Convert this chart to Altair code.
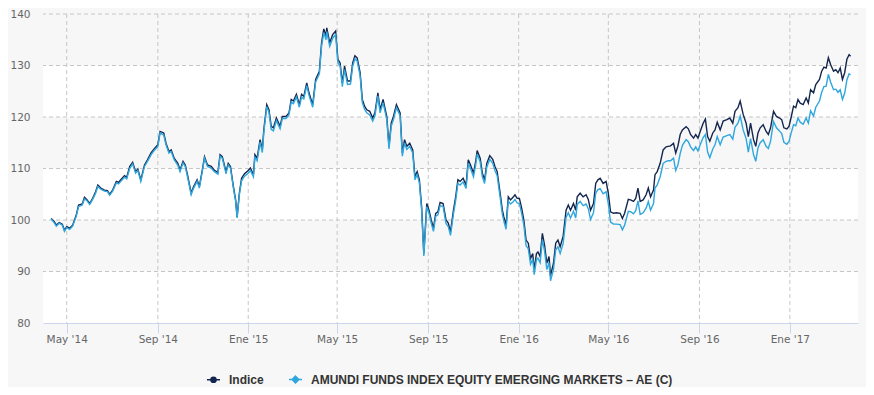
import altair as alt
import pandas as pd

# ---------------- data ----------------
# day offsets from 2014-05-01
day_offset = [
    -21, -17, -14, -10, -6, -3, 0, 4, 8, 13, 16, 21, 24, 27, 31, 35, 39, 42, 46, 51,
    55, 58, 62, 67, 70, 73, 78, 81, 85, 89, 93, 96, 100, 105, 109, 114, 118, 123, 126, 131,
    134, 138, 141, 145, 150, 153, 157, 160, 163, 168, 171, 176, 179, 183, 186, 190, 195, 199, 204,
    207, 210, 215, 218, 221, 225, 228, 230, 233, 236, 240, 245, 248, 252, 254, 257, 261, 264, 266, 270,
    273, 276, 279, 283, 288, 291, 296, 300, 303, 306, 310, 314, 317, 320, 324, 327, 332, 336, 341, 344,
    347, 350, 351, 355, 359, 363, 366, 369, 372, 375, 379, 383, 386, 389, 392, 396, 399, 402, 405, 409,
    413, 416, 420, 423, 427, 432, 435, 438, 441, 445, 450,
    453, 456, 459, 463, 467, 470, 473, 476, 479, 482, 486, 489, 492, 495, 498, 501, 504, 508, 512, 515,
    518, 522, 525, 528, 531, 535, 539, 542, 545, 549, 552, 554, 558, 561, 564, 567, 571, 575, 578, 581,
    585, 588, 590, 593, 596, 599, 603, 605, 608, 611, 614, 617, 620, 623, 626, 629, 631, 634, 636, 639,
    642, 645, 648, 651, 653, 657, 660, 663, 666, 670, 674, 677, 680, 684, 687, 689, 693,
    697, 701, 704, 707, 711, 714, 717, 720, 724, 728, 731, 734, 738, 742, 747, 750, 753, 758, 761, 765,
    768, 771, 774, 778, 782, 785, 788, 792, 794, 797, 801, 805, 809, 812, 815, 819, 822, 825, 828, 831,
    836, 839, 842, 846, 849, 852, 855, 859, 862, 865, 868, 872, 875, 878, 882,
    886, 891, 895, 899, 902, 906, 909, 913, 917, 920, 923, 927, 930, 933, 936, 940, 944, 947, 950, 954,
    958, 962, 965, 968, 972, 975, 978, 981, 984, 987, 990, 994, 998, 1001, 1004, 1008, 1011, 1016, 1019, 1022,
    1025, 1028, 1031, 1035, 1038, 1041, 1044, 1047, 1050, 1053, 1056, 1058,
]

indice = [
    100.3, 99.7, 99.0, 99.5, 99.2, 98.0, 98.7, 98.4, 99.0, 101.0, 102.9, 103.1, 104.4, 104.0, 103.2, 104.2, 105.5, 106.8, 106.2, 105.8,
    105.7, 105.0, 105.8, 107.5, 107.3, 107.8, 108.6, 108.3, 110.4, 111.2, 109.4, 109.9, 107.8, 110.7, 111.7, 113.1, 113.8, 114.6, 117.2, 116.9,
    114.9, 113.3, 113.6, 112.0, 111.0, 109.7, 111.4, 110.7, 108.8, 105.2, 106.4, 107.8, 106.5, 109.7, 112.3, 110.7, 110.4, 109.7, 109.2,
    112.7, 112.3, 109.4, 111.0, 110.4, 106.5, 103.9, 100.6, 105.2, 108.1, 109.0, 109.6, 110.1, 108.8, 112.7, 112.0, 115.6, 113.6, 117.5, 122.4,
    121.4, 118.2, 117.9, 119.8, 118.2, 120.1, 120.1, 120.8, 123.4, 123.1, 124.4, 122.4, 124.4, 124.0, 126.6, 124.7, 122.4, 127.3, 128.9, 134.4,
    137.1, 135.7, 137.3, 134.4, 136.0, 136.7, 131.2, 130.5, 126.6, 129.9, 127.0, 127.0, 130.5, 131.9, 131.5, 128.6, 123.4, 122.1, 121.4, 121.1,
    119.8, 120.8, 124.7, 121.4, 123.4, 120.1, 114.3, 118.8, 120.1, 122.4, 120.8,
    113.0, 115.6, 114.3, 114.9, 113.6, 108.4, 109.4, 107.8, 102.6, 93.5, 103.2, 101.9, 100.0, 98.4, 101.3, 101.6, 103.4, 103.2, 100.0, 99.4,
    97.7, 101.9, 104.5, 107.8, 107.5, 108.1, 106.8, 111.7, 110.7, 109.1, 111.4, 113.5, 112.0, 109.1, 107.8, 111.0, 112.5, 111.8, 110.4, 109.4,
    105.2, 101.9, 100.6, 99.0, 104.5, 103.9, 104.5, 104.9, 104.2, 104.2, 102.3, 100.0, 96.1, 95.5, 92.5, 93.5, 90.3, 93.5, 93.8, 92.9,
    97.4, 95.1, 91.6, 92.9, 89.2, 91.6, 95.5, 96.1, 94.8, 96.8, 101.9, 102.9, 101.9, 103.2, 101.9, 104.5, 105.2,
    104.5, 104.9, 104.0, 101.9, 103.2, 107.1, 107.8, 108.1, 107.1, 107.5, 105.2, 101.6, 101.3, 101.4, 101.3, 100.3, 101.3, 104.0, 103.9, 103.6,
    104.2, 106.2, 103.6, 103.9, 104.9, 106.2, 104.5, 105.8, 108.8, 109.4, 111.0, 113.6, 114.2, 114.3, 114.4, 114.9, 113.0, 114.4, 116.6, 117.5,
    118.1, 117.7, 116.6, 115.9, 116.6, 115.9, 117.2, 118.8, 119.6, 116.2, 115.3, 116.9, 117.5, 119.0, 117.5,
    119.2, 119.5, 119.8, 118.8, 121.1, 121.8, 123.1, 120.5, 118.8, 116.2, 118.8, 115.6, 114.3, 116.9, 117.9, 118.5, 117.2, 116.6, 117.9, 121.1,
    120.1, 119.8, 119.5, 117.9, 117.7, 118.2, 120.1, 122.1, 121.8, 123.4, 122.7, 122.4, 123.7, 122.7, 125.3, 124.7, 126.3, 127.3, 128.9, 129.7,
    129.5, 131.5, 130.2, 128.9, 129.2, 128.6, 129.5, 127.3, 128.6, 131.2, 132.1, 131.8,
]

amundi = [
    100.2, 99.5, 98.8, 99.4, 99.0, 97.8, 98.5, 98.2, 98.8, 100.8, 102.6, 102.9, 104.1, 103.8, 103.0, 104.0, 105.2, 106.5, 106.0, 105.6,
    105.5, 104.8, 105.6, 107.2, 107.0, 107.5, 108.3, 108.0, 110.0, 110.9, 109.1, 109.6, 107.5, 110.4, 111.4, 112.7, 113.5, 114.3, 116.9, 116.5,
    114.6, 113.0, 113.3, 111.7, 110.6, 109.4, 111.1, 110.4, 108.4, 104.9, 106.1, 107.5, 106.2, 109.4, 112.0, 110.4, 110.1, 109.4, 108.9,
    112.4, 112.0, 109.0, 110.7, 110.1, 106.2, 103.6, 100.4, 104.9, 107.6, 108.5, 109.1, 109.6, 108.4, 112.2, 111.5, 115.1, 113.1, 117.0, 122.0,
    120.9, 117.6, 117.3, 119.3, 117.7, 119.7, 119.7, 120.4, 122.9, 122.6, 123.9, 121.9, 123.9, 123.5, 126.1, 124.2, 121.9, 126.8, 128.4, 133.8,
    136.4, 135.0, 136.6, 133.7, 135.3, 136.0, 130.6, 129.9, 125.9, 129.2, 126.3, 126.4, 129.9, 131.3, 130.9, 128.0, 122.8, 121.5, 120.8, 120.4,
    119.2, 120.2, 124.1, 120.8, 122.8, 119.5, 113.8, 118.2, 119.5, 121.8, 120.2,
    112.4, 115.0, 113.7, 114.3, 113.0, 107.8, 108.8, 107.2, 102.0, 93.0, 102.6, 101.3, 99.4, 97.8, 100.7, 101.0, 102.8, 102.6, 99.3, 98.7,
    97.0, 101.2, 103.8, 107.1, 106.8, 107.4, 106.1, 111.0, 110.0, 108.4, 110.7, 112.8, 111.3, 108.4, 107.1, 110.3, 111.8, 111.0, 109.6, 108.6,
    104.4, 101.1, 99.8, 98.2, 103.7, 103.1, 103.6, 104.0, 103.3, 103.2, 101.3, 99.0, 95.0, 94.4, 91.4, 92.4, 89.4, 92.3, 92.6, 91.7,
    96.2, 93.9, 90.4, 91.7, 88.2, 90.4, 94.2, 94.8, 93.5, 95.4, 100.5, 101.4, 100.4, 101.7, 100.4, 103.0, 103.6,
    102.8, 103.1, 102.2, 100.1, 101.4, 105.2, 105.9, 106.1, 105.1, 105.5, 103.2, 99.6, 99.2, 99.2, 99.1, 98.1, 99.0, 101.7, 101.6, 101.2,
    101.8, 103.7, 101.1, 101.4, 102.3, 103.6, 101.9, 103.2, 106.2, 106.8, 108.4, 111.0, 111.4, 111.5, 111.5, 112.0, 109.6, 110.7, 112.9, 114.5,
    115.6, 115.2, 114.2, 113.5, 114.2, 113.4, 114.6, 116.0, 116.6, 113.2, 112.1, 113.8, 114.6, 116.2, 114.6,
    116.1, 116.4, 116.6, 115.7, 118.0, 118.8, 120.2, 117.5, 115.8, 113.2, 115.8, 112.7, 111.4, 114.0, 115.0, 115.6, 114.3, 113.9, 115.3, 119.1,
    117.9, 117.3, 116.8, 115.1, 114.7, 115.3, 117.0, 118.5, 118.3, 119.8, 119.0, 118.6, 119.8, 118.8, 121.2, 120.2, 121.9, 123.1, 124.8, 125.9,
    126.0, 128.3, 126.8, 125.3, 125.4, 124.8, 125.3, 123.4, 124.6, 127.2, 128.4, 128.2,
]

SERIES = ["Indice", "AMUNDI FUNDS INDEX EQUITY EMERGING MARKETS – AE (C)"]
COLORS = ["#14264d", "#2ea6de"]

MONTHS_ES = ["Ene", "Feb", "Mar", "Abr", "May", "Jun", "Jul", "Ago", "Sep", "Oct", "Nov", "Dic"]
x_ticks = ["2014-05-01", "2014-09-01", "2015-01-01", "2015-05-01", "2015-09-01",
           "2016-01-01", "2016-05-01", "2016-09-01", "2017-01-01"]
y_ticks = [80, 90, 100, 110, 120, 130, 140]
y_grid = [90, 100, 110, 120, 130, 140]
band_lo = [80, 100, 120]
band_hi = [90, 110, 130]

# ---------------- tables ----------------
fechas = (pd.Timestamp("2014-05-01") + pd.to_timedelta(day_offset, unit="D")).strftime("%Y-%m-%d")
df = pd.concat([
    pd.DataFrame({"fecha": fechas, "valor": indice, "serie": SERIES[0]}),
    pd.DataFrame({"fecha": fechas, "valor": amundi, "serie": SERIES[1]}),
], ignore_index=True)
df_bands = pd.DataFrame({"lo": band_lo, "hi": band_hi})
df_ygrid = pd.DataFrame({"v": y_grid})
df_xgrid = pd.DataFrame({"d": x_ticks})

W, H = 815, 309
LABEL_FONT = "DejaVu Sans"

x_scale = alt.Scale(type="utc", domain=[
    alt.DateTime(year=2014, month=3, date=30, utc=True),
    alt.DateTime(year=2017, month=4, date=3, utc=True)])
y_scale = alt.Scale(domain=[80, 140], nice=False, zero=False)

label_expr = ("['" + "','".join(MONTHS_ES) + "'][utcmonth(datum.value)] + \" '\" + "
              "utcFormat(datum.value, '%y')")

x_axis = alt.Axis(
    values=[alt.DateTime(year=int(s[:4]), month=int(s[5:7]), date=1, utc=True) for s in x_ticks],
    labelExpr=label_expr, grid=False, title=None,
    domainColor="#ccd6eb", domainWidth=1, tickColor="#ccd6eb", tickSize=10, tickWidth=1,
    labelFont=LABEL_FONT, labelFontSize=10.5, labelColor="#666666", labelPadding=1,
)
y_axis = alt.Axis(
    values=y_ticks, grid=False, title=None, domain=False, ticks=False,
    labelFont=LABEL_FONT, labelFontSize=10.5, labelColor="#666666", labelPadding=13,
)

# every layer carries the same axis definition so that they merge into one
bands = alt.Chart(df_bands).mark_rect(color="#ffffff").encode(
    y=alt.Y("lo:Q", scale=y_scale, axis=y_axis),
    y2="hi:Q",
    x=alt.value(0), x2=alt.value(W),
)

grid_y = alt.Chart(df_ygrid).mark_rule(color="#c6c6c6", strokeWidth=1, strokeDash=[4, 3]).encode(
    y=alt.Y("v:Q", scale=y_scale, axis=y_axis),
)

grid_x = alt.Chart(df_xgrid).mark_rule(color="#c6c6c6", strokeWidth=1, strokeDash=[4, 3]).encode(
    x=alt.X("d:T", scale=x_scale, axis=x_axis),
)

# legend symbols: a short line with a (stroked, visually filled) circle / diamond
CIRCLE_SYM = ("M-1,0L1,0"
              "M0.4,0A0.4,0.4 0 1,1 -0.4,0A0.4,0.4 0 1,1 0.4,0"
              "M0.18,0A0.18,0.18 0 1,1 -0.18,0A0.18,0.18 0 1,1 0.18,0")
DIAMOND_SYM = ("M-1,0L1,0"
               "M0,-0.52L0.52,0L0,0.52L-0.52,0Z"
               "M0,-0.28L0.28,0L0,0.28L-0.28,0Z"
               "M0,-0.07L0.07,0L0,0.07L-0.07,0Z")

color_scale = alt.Scale(domain=SERIES, range=COLORS)
shape_scale = alt.Scale(domain=SERIES, range=[CIRCLE_SYM, DIAMOND_SYM])
color_legend = alt.Legend(title=None, symbolSize=169, symbolStrokeWidth=1.5, labelLimit=0)

def line_layer(name):
    return alt.Chart(df).transform_filter(alt.datum.serie == name).mark_line(
        strokeWidth=1.4, interpolate="linear"
    ).encode(
        x=alt.X("fecha:T", scale=x_scale, axis=x_axis),
        y=alt.Y("valor:Q", scale=y_scale, axis=y_axis),
        color=alt.Color("serie:N", scale=color_scale, legend=color_legend),
    )

legend_layer = alt.Chart(df).transform_filter("false").mark_point(
    filled=False, opacity=1, strokeWidth=1.5, size=169
).encode(
    x=alt.X("fecha:T", scale=x_scale, axis=x_axis),
    y=alt.Y("valor:Q", scale=y_scale, axis=y_axis),
    color=alt.Color("serie:N", scale=color_scale, legend=color_legend),
    shape=alt.Shape("serie:N", scale=shape_scale, legend=color_legend),
)

chart = alt.layer(
    bands, grid_y, grid_x, line_layer(SERIES[0]), line_layer(SERIES[1]), legend_layer
).properties(
    width=W, height=H,
    background="#f7f7f7",
    padding={"left": 35, "top": 6, "right": 8, "bottom": 64},
    autosize=alt.AutoSizeParams(type="none"),
).configure_view(
    stroke=None, fill="#f7f7f7",
).configure_legend(
    orient="none", legendX=163, legendY=358, direction="horizontal",
    labelFont="Liberation Sans", labelFontSize=12, labelFontWeight="bold", labelColor="#333333",
    labelOffset=8, columnPadding=22, padding=0, labelLimit=0,
    symbolSize=169, symbolStrokeWidth=1.5, symbolOpacity=1,
)

chart.save("out.html", embed_options={"renderer": "svg", "actions": False})
